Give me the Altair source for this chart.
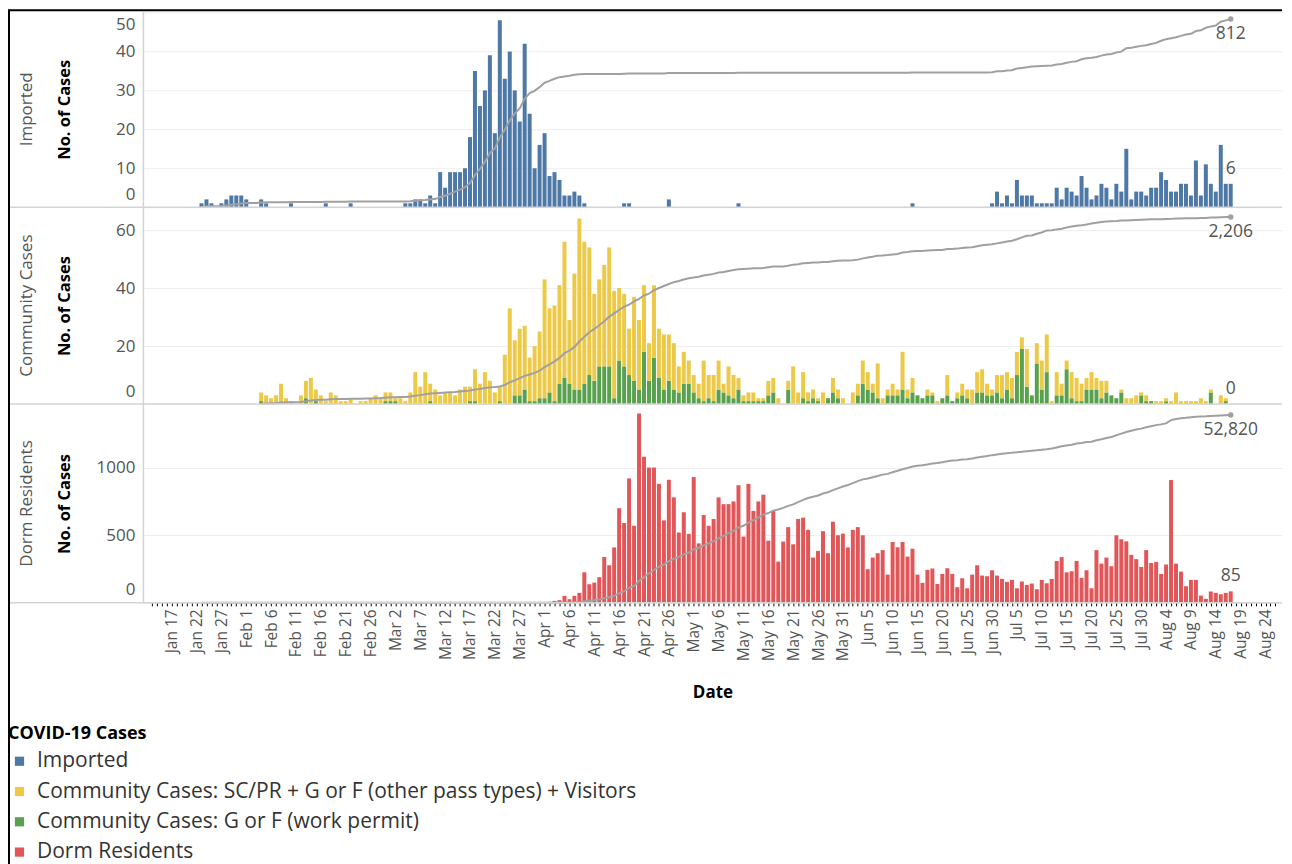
import altair as alt
import pandas as pd

FIRST_DATE = "2020-01-23"
LAST_DATE = "2020-08-17"
COMMUNITY_START = "2020-02-04"

SERIES = [
    "Imported",
    "Community Cases: SC/PR + G or F (other pass types) + Visitors",
    "Community Cases: G or F (work permit)",
    "Dorm Residents",
]
COLORS = ["#4e79a7", "#edc948", "#59a14f", "#e15759"]
PANEL_NAMES = ["Imported", "Community Cases", "Dorm Residents"]
Y_TICKS = [[0, 10, 20, 30, 40, 50], [0, 20, 40, 60], [0, 500, 1000]]

# ---- daily new cases, 23 Jan .. 17 Aug 2020 (month blocks) ----
IMPORTED = (
    [1, 2, 1, 0, 1, 2, 3, 3, 3]
    + [2, 0, 0, 2, 1, 0, 0, 0, 0, 1, 0, 0, 0, 0, 0, 0, 1, 0, 0, 0, 0, 1, 0, 0, 0, 0, 0, 0, 0]
    + [0, 0, 0, 1, 1, 2, 2, 1, 3, 1, 9, 5, 9, 9, 9, 10, 18, 35, 26, 30, 39, 19, 48, 33, 40, 30, 22, 42, 24, 10, 16]
    + [19, 8, 9, 7, 3, 3, 4, 3, 1, 0, 0, 0, 0, 0, 0, 0, 1, 1, 0, 0, 0, 0, 0, 0, 0, 2, 0, 0, 0, 0]
    + [0] * 9 + [1] + [0] * 21
    + [0] * 13 + [1] + [0] * 15 + [1]
    + [4, 1, 3, 1, 7, 3, 3, 3, 1, 1, 1, 1, 5, 2, 5, 4, 3, 8, 5, 2, 3, 6, 5, 2, 6, 4, 15, 2, 4, 4, 3]
    + [5, 5, 9, 7, 4, 4, 6, 6, 3, 12, 3, 11, 6, 4, 16, 6, 6]
)
COMMUNITY_OTHER = (
    [0] * 9
    + [0, 0, 0, 3, 3, 2, 3, 7, 2, 1, 0, 3, 6, 9, 4, 3, 1, 4, 3, 1, 1, 2, 0, 1, 1, 2, 3, 2, 3]
    + [3, 1, 2, 1, 4, 11, 6, 11, 6, 5, 3, 4, 4, 3, 5, 6, 5, 11, 7, 11, 8, 4, 5, 17, 33, 19, 23, 22, 15, 19, 23]
    + [41, 29, 33, 34, 47, 22, 40, 59, 49, 44, 30, 30, 35, 41, 37, 25, 25, 16, 29, 24, 23, 13, 25, 17, 19, 16, 16, 9, 11, 8]
    + [6, 5, 14, 8, 9, 10, 3, 10, 8, 4, 2, 3, 3, 1, 1, 5, 5, 2, 0, 3, 13, 4, 9, 3, 3, 1, 4, 0, 5, 3, 2]
    + [0, 4, 4, 8, 6, 3, 12, 2, 2, 4, 2, 13, 3, 5, 0, 0, 2, 1, 1, 0, 7, 0, 2, 4, 3, 5, 7, 8, 4, 2]
    + [6, 8, 6, 7, 8, 4, 13, 0, 7, 10, 13, 1, 8, 4, 3, 9, 8, 6, 4, 6, 4, 6, 4, 0, 0, 1, 2, 2, 3, 1, 2]
    + [0, 1, 1, 1, 1, 4, 1, 1, 1, 1, 2, 1, 1, 0, 3, 1, 0]
)
COMMUNITY_WP = (
    [0] * 9
    + [0, 0, 0, 1, 0, 0, 0, 0, 0, 0, 0, 0, 2, 0, 1, 0, 0, 0, 0, 0, 0, 0, 0, 0, 0, 0, 0, 0, 1]
    + [1, 1, 0, 0, 0, 0, 0, 0, 1, 0, 0, 0, 0, 0, 0, 0, 1, 1, 0, 0, 0, 0, 1, 0, 0, 3, 3, 5, 1, 1, 2]
    + [2, 4, 1, 7, 9, 7, 5, 5, 7, 10, 8, 13, 13, 13, 2, 15, 13, 10, 8, 5, 18, 8, 16, 9, 5, 8, 5, 4, 7, 7]
    + [4, 2, 1, 2, 1, 5, 4, 3, 2, 5, 1, 1, 1, 1, 1, 3, 4, 0, 0, 5, 0, 0, 2, 1, 2, 1, 0, 2, 4, 2, 0]
    + [0, 0, 3, 7, 5, 4, 2, 0, 3, 3, 3, 5, 2, 4, 3, 2, 3, 3, 0, 2, 3, 1, 2, 3, 2, 0, 4, 4, 3, 3]
    + [4, 2, 5, 2, 10, 19, 6, 3, 14, 5, 11, 0, 3, 3, 12, 2, 1, 1, 5, 5, 5, 2, 4, 3, 2, 4, 0, 0, 0, 3, 1]
    + [1, 0, 0, 1, 0, 0, 0, 0, 0, 0, 0, 0, 4, 0, 0, 1, 0]
)
DORM = (
    [0] * 9
    + [0] * 29
    + [0] * 30 + [3]
    + [5, 8, 15, 20, 52, 27, 52, 74, 226, 138, 150, 190, 340, 278, 410, 700, 590, 920, 570, 1400,
       1080, 1000, 1000, 880, 610, 910, 780, 520, 670, 510]
    + [930, 440, 650, 570, 620, 780, 730, 730, 750, 870, 490, 880, 680, 750, 800, 460, 680, 305, 453, 560,
       433, 620, 630, 540, 335, 384, 530, 367, 600, 500, 512]
    + [410, 540, 560, 500, 249, 335, 367, 390, 209, 450, 411, 450, 342, 400, 209, 148, 244, 254, 140, 214,
       256, 214, 116, 182, 108, 209, 278, 202, 197, 241]
    + [202, 177, 155, 170, 108, 158, 133, 143, 101, 170, 145, 177, 310, 338, 226, 234, 310, 185, 241, 108,
       390, 290, 335, 271, 500, 470, 455, 355, 323, 266, 390]
    + [295, 303, 214, 283, 908, 290, 231, 123, 170, 170, 54, 30, 84, 74, 64, 74, 85]
)

dates = pd.date_range(FIRST_DATE, LAST_DATE, freq="D").strftime("%Y-%m-%d").tolist()
for s in (IMPORTED, COMMUNITY_OTHER, COMMUNITY_WP, DORM):
    assert len(s) == len(dates), len(s)

bar_rows, tot_rows = [], []
for i, d in enumerate(dates):
    last = d == LAST_DATE
    bar_rows.append({"date": d, "series": SERIES[0], "value": IMPORTED[i], "panel": 0, "stack": 0})
    tot_rows.append({"date": d, "panel": 0, "total": IMPORTED[i], "last": last})
    if d >= COMMUNITY_START:
        bar_rows.append({"date": d, "series": SERIES[2], "value": COMMUNITY_WP[i], "panel": 1, "stack": 0})
        bar_rows.append({"date": d, "series": SERIES[1], "value": COMMUNITY_OTHER[i], "panel": 1, "stack": 1})
        tot_rows.append({"date": d, "panel": 1, "total": COMMUNITY_WP[i] + COMMUNITY_OTHER[i], "last": last})
    bar_rows.append({"date": d, "series": SERIES[3], "value": DORM[i], "panel": 2, "stack": 0})
    tot_rows.append({"date": d, "panel": 2, "total": DORM[i], "last": last})
bars_df = pd.DataFrame(bar_rows)
tot_df = pd.DataFrame(tot_rows)
one = pd.DataFrame({"k": [0]})

# ---- layout / scales ----
FONT = "Open Sans"
W = 1140
HEIGHTS = [196, 197, 199]
Y_MAX = [50.3, 67.9, 1470]
CUM_MAX = [845, 2323, 55900]
DAY = 86_400_000
JAN17 = 1_579_219_200_000
X_DOMAIN = [JAN17 - 4.78 * DAY, JAN17 + 222.31 * DAY]
TICK_VALUES = [JAN17 + k * DAY for k in range(-4, 223)]
LABEL_EXPR = (
    f"(round((datum.value - {JAN17}) / {DAY}) % 5 == 0) ? utcFormat(datum.value, '%b %-d') : ''"
)
GREY_TXT = "#555555"

legend = alt.Legend(
    title="COVID-19 Cases", orient="none", legendX=-135, legendY=714, direction="vertical",
    symbolType="square", symbolSize=85, symbolOffset=1, symbolStrokeWidth=0,
    labelFontSize=21, labelColor="#333333", labelOffset=7, labelLimit=0,
    titleFontSize=18, titleFontWeight="bold", titleColor="#000000", titlePadding=8,
    rowPadding=8.3, padding=0,
)
color = alt.Color("series:N", scale=alt.Scale(domain=SERIES, range=COLORS), legend=legend)


def make_panel(p):
    H = HEIGHTS[p]
    bottom = p == 2
    if bottom:
        xaxis = alt.Axis(
            values=TICK_VALUES, labelExpr=LABEL_EXPR, labelAngle=270, labelOverlap=False,
            labelFontSize=15.5, labelColor=GREY_TXT, labelPadding=3,
            tickSize=3, tickColor="#000000", tickWidth=1, domain=False, grid=False,
            title="Date", titleFontSize=17, titleFontWeight="bold", titleColor="#000000",
            titleY=90, titleBaseline="middle",
        )
    else:
        xaxis = None
    X = alt.X("date:T", scale=alt.Scale(type="utc", domain=X_DOMAIN, nice=False), axis=xaxis)
    yaxis = alt.Axis(
        values=Y_TICKS[p], format="d", title="No. of Cases", titleFontSize=16.5,
        titleFontWeight="bold", titleColor="#000000", titleAngle=270, titleX=-78, titleY=H / 2,
        titleAlign="center", titleBaseline="middle", labelFontSize=17, labelColor=GREY_TXT,
        labelPadding=8, ticks=False, domain=True, domainColor="#d4d4d4", domainWidth=1.5,
        grid=True, gridColor="#eeeeee", labelFlush=8, labelFlushOffset=-4,
    )
    ybar = alt.Scale(domain=[0, Y_MAX[p]], nice=False)
    ycum = alt.Scale(domain=[0, CUM_MAX[p]], nice=False)

    bdf = bars_df[bars_df.panel == p]
    tdf = tot_df[tot_df.panel == p]

    bars = alt.Chart(bdf).mark_bar(size=4).encode(
        x=X,
        y=alt.Y("value:Q", stack="zero", scale=ybar, axis=yaxis),
        color=color,
        order=alt.Order("stack:Q", sort="ascending"),
    )
    cum = alt.Chart(tdf).transform_window(
        cum="sum(total)", frame=[None, 0], sort=[alt.SortField("date")]
    )
    line = cum.mark_line(color="#a0a0a0", strokeWidth=2).encode(
        x=X, y=alt.Y("cum:Q", scale=ycum, axis=None)
    )
    endpoint = cum.transform_filter("datum.last").mark_circle(
        size=30, color="#a0a0a0", opacity=1
    ).encode(x=X, y=alt.Y("cum:Q", scale=ycum, axis=None))
    cumlabel = cum.transform_filter("datum.last").mark_text(
        dy=15, fontSize=17.5, color=GREY_TXT
    ).encode(x=X, y=alt.Y("cum:Q", scale=ycum, axis=None), text=alt.Text("cum:Q", format=","))
    lastlabel = alt.Chart(tdf).transform_filter("datum.last").mark_text(
        dy=-15, fontSize=17.5, color=GREY_TXT
    ).encode(x=X, y=alt.Y("total:Q", scale=ybar, axis=None), text=alt.Text("total:Q", format=","))
    rowname = alt.Chart(one).mark_text(
        angle=270, fontSize=17, color=GREY_TXT, align="center", baseline="middle"
    ).encode(x=alt.value(-116), y=alt.value(H / 2), text=alt.value(PANEL_NAMES[p]))
    sep = alt.Chart(one).mark_rule(color="#d4d4d4", strokeWidth=1.5).encode(
        x=alt.value(-134), x2=alt.value(W), y=alt.value(H)
    )
    layers = [bars, line, endpoint, cumlabel, lastlabel, rowname, sep]
    if p == 0:
        layers.append(alt.Chart(one).mark_rule(color="#000000", strokeWidth=2).encode(
            x=alt.value(-134), x2=alt.value(W), y=alt.value(-1)))
    if bottom:
        layers.append(alt.Chart(one).mark_rule(color="#000000", strokeWidth=2).encode(
            x=alt.value(-134), y=alt.value(-(HEIGHTS[0] + HEIGHTS[1]) - 2), y2=alt.value(H + 266)))
    return alt.layer(*layers).resolve_scale(y="independent").properties(width=W, height=H)


chart = (
    alt.vconcat(*[make_panel(p) for p in range(3)], spacing=0, bounds="flush")
    .resolve_scale(color="shared")
    .properties(padding={"left": 0, "top": 0, "right": 0, "bottom": 0})
    .configure(font=FONT)
    .configure_view(stroke=None)
)

chart.save("out.html", embed_options={"renderer": "svg", "actions": False})
